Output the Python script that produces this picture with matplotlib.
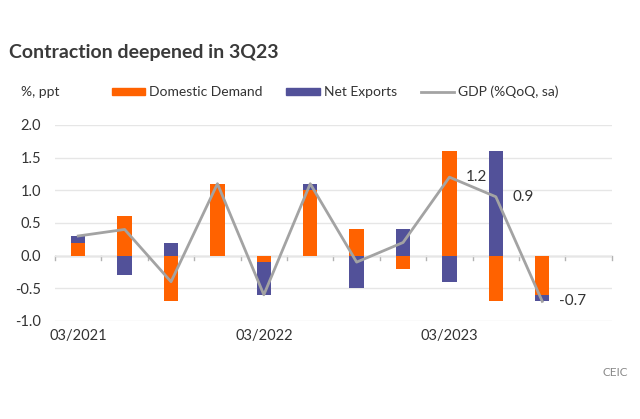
import numpy as np
import matplotlib.pyplot as plt
from matplotlib.patches import Patch
from matplotlib.lines import Line2D

# ─── Data ─────────────────────────────────────────────────────────────
quarters = ["03/2021", "06/2021", "09/2021", "12/2021",
            "03/2022", "06/2022", "09/2022", "12/2022",
            "03/2023", "06/2023", "09/2023", "12/2023"]
domestic_demand = [0.2, 0.6, -0.7, 1.1, -0.1, 1.0, 0.4, -0.2, 1.6, -0.7, -0.6]
net_exports = [0.1, -0.3, 0.2, 0.0, -0.5, 0.1, -0.5, 0.4, -0.4, 1.6, -0.1]
gdp = [0.3, 0.4, -0.4, 1.1, -0.6, 1.1, -0.1, 0.2, 1.2, 0.9, -0.7]
labelled = {8: "1.2", 9: "0.9", 10: "-0.7"}

ORANGE = "#ff6200"
BLUE = "#525199"
GREY = "#a3a3a3"
TXT = "#333333"

plt.rcParams.update({
    "font.family": ["Lato", "DejaVu Sans"],
    "font.size": 10,
    "text.color": TXT,
})

fig = plt.figure(figsize=(6.4, 4.19), dpi=100)
ax = fig.add_axes([0.086, 0.234, 0.870, 0.468])

n = len(domestic_demand)
x = np.arange(n)
dd = np.array(domestic_demand)
nx = np.array(net_exports)

# stack positives and negatives separately
dd_base = np.zeros(n)
nx_base = np.where((nx >= 0) == (dd >= 0), dd, 0.0)
width = 0.31
ax.bar(x, dd, width, bottom=dd_base, color=ORANGE, zorder=2)
ax.bar(x, nx, width, bottom=nx_base, color=BLUE, zorder=2)
ax.plot(x, gdp, color=GREY, lw=2, zorder=3)

for i, txt in labelled.items():
    ax.annotate(txt, (x[i], gdp[i]), xytext=(12, 0), textcoords="offset points",
                ha="left", va="center", fontsize=11, color=TXT)

ax.set_xlim(-0.5, len(quarters) - 0.5)
ax.set_ylim(-1.0, 2.0)
ax.set_yticks(np.arange(-1.0, 2.01, 0.5))
ax.set_yticklabels([f"{v:.1f}" for v in np.arange(-1.0, 2.01, 0.5)], fontsize=10.5)
ax.grid(axis="y", color="#e6e6e6", lw=1, zorder=0)
ax.axhline(0, color="#b3b3b3", lw=1, zorder=1)
for s in ax.spines.values():
    s.set_visible(False)
ax.tick_params(axis="y", length=0, pad=10, colors=TXT)

# category boundary ticks on the zero line
for b in np.arange(-0.5, len(quarters), 1.0):
    ax.plot([b, b], [0, -0.07], color="#b3b3b3", lw=1, zorder=1, clip_on=False)

ax.set_xticks([0, 4, 8])
ax.set_xticklabels([quarters[0], quarters[4], quarters[8]], fontsize=10.5)
ax.tick_params(axis="x", length=0, pad=6, colors=TXT)

fig.text(0.014, 0.875, "Contraction deepened in 3Q23", fontsize=14,
         fontweight="bold", color="#3a3a3a", va="center")
fig.text(0.033, 0.78, "%, ppt", fontsize=10, va="center")

handles = [Patch(color=ORANGE), Patch(color=BLUE), Line2D([], [], color=GREY, lw=2)]
labels = ["Domestic Demand", "Net Exports", "GDP (%QoQ, sa)"]
fig.legend(handles, labels, ncol=3, frameon=False, loc="center left",
           bbox_to_anchor=(0.155, 0.78), handlelength=2.4, handleheight=0.4,
           handletextpad=0.3, columnspacing=1.7, fontsize=10)

fig.text(0.982, 0.11, "CEIC", fontsize=8.5, color="#888888", ha="right", va="center")

fig.savefig("out.png", dpi=100, facecolor="white")
